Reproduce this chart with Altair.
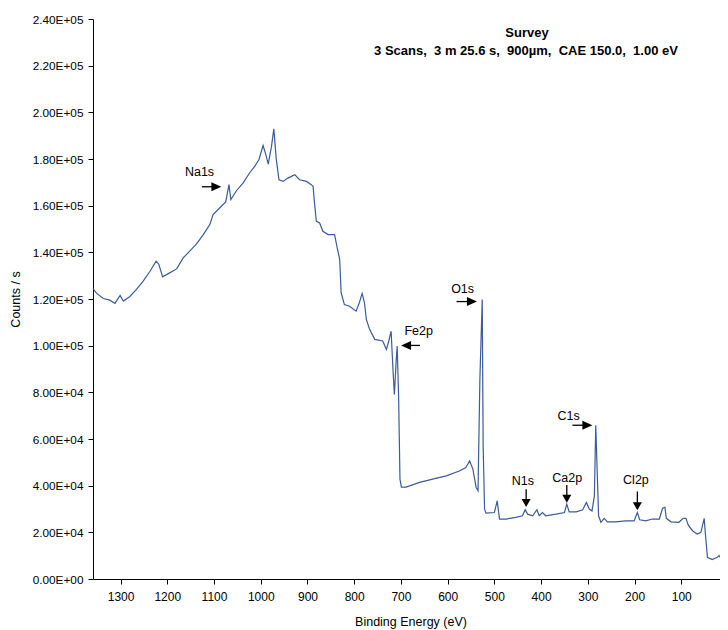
import altair as alt
import pandas as pd

# Spectrum: binding energy (eV) and counts/s
BE = [1359, 1351, 1337, 1323, 1312, 1301, 1294, 1280, 1266, 1252, 1237, 1224, 1218, 1210,
      1195, 1180, 1166, 1152, 1137, 1123, 1109, 1102, 1088, 1075, 1068, 1064, 1052, 1038,
      1024, 1013, 1004, 995, 989, 984, 977, 972, 967, 961, 952, 942, 927, 917, 902, 892,
      888, 885, 881, 874, 867, 856, 842, 837, 831, 828, 821, 810, 796, 789, 783, 778, 774,
      767, 756, 739, 731, 726, 721, 717, 714, 710, 708, 705, 702, 699, 689, 660, 632, 603,
      575, 561, 553, 546, 539, 535, 531, 526, 524, 521, 518, 500, 494, 489, 475, 454, 440,
      434, 429, 418, 409, 404, 397, 390, 368, 350, 345, 340, 325, 311, 303, 297, 291, 286,
      283, 277, 272, 265, 258, 240, 219, 201, 194, 189, 176, 162, 147, 140, 135, 132, 122,
      105, 96, 90, 85, 76, 66, 58, 51, 48, 44, 34, 23, 19, 13, 5]
CPS = [124500, 122400, 120200, 119500, 118100, 121500, 119100, 121100, 124100, 127600,
       131900, 136200, 134800, 129500, 131200, 132900, 137600, 140500, 143700, 147600,
       151900, 156200, 159000, 161600, 169000, 162600, 166400, 169700, 174000, 176800,
       179700, 185800, 181800, 177800, 185400, 192900, 180400, 171100, 170400, 171800,
       173300, 171100, 170400, 169000, 168300, 161300, 153300, 152600, 149000, 147600,
       147600, 142600, 136900, 122700, 117600, 116900, 114800, 118400, 122400, 118400,
       111200, 107000, 102700, 102000, 98400, 102000, 106200, 89800, 79100, 94100, 99800,
       78400, 42800, 39400, 39400, 41400, 42800, 44200, 46300, 47800, 50600, 47100, 39200,
       37800, 85600, 119800, 57000, 30000, 28200, 28500, 33500, 25700, 25700, 26400, 27100,
       29700, 27800, 27100, 29700, 27100, 28500, 27100, 27800, 28500, 32100, 28800, 28800,
       29700, 32800, 30000, 29200, 35600, 65900, 27100, 24300, 26000, 24500, 24500, 24900,
       24900, 28500, 25400, 24900, 25700, 25700, 30300, 30700, 26000, 24500, 24300, 26000,
       26000, 23100, 20700, 19300, 20000, 26000, 18500, 9300, 8300, 9300, 10000, 8300, 8300]

# Peak annotations
ANN_TEXT = ["Na1s", "Fe2p", "O1s", "N1s", "Ca2p", "C1s", "Cl2p"]
ANN_X = [1131, 662, 568, 439, 344, 341, 197]
ANN_Y = [174300, 106100, 124100, 42200, 43500, 69900, 42400]
ARR_X1 = [1126, 659, 581, 432, 345, 333, 194]
ARR_X2 = [1095, 689, 548, 432, 345, 301, 194]
ARR_Y1 = [168100, 100100, 118900, 38500, 40300, 65900, 37500]
ARR_Y2 = [168100, 100100, 118900, 32600, 34400, 65900, 31200]
ARR_DIR = ["right", "left", "right", "down", "down", "right", "down"]

TITLE = "Survey"
SUBTITLE = "3 Scans,\u00a0 3 m 25.6 s,\u00a0 900\u00b5m,\u00a0 CAE 150.0,\u00a0 1.00 eV"

HEADS = {
    "right": "M-1,-0.9L1,0L-1,0.9Z",
    "left": "M1,-0.9L-1,0L1,0.9Z",
    "down": "M-1,-0.9L1,-0.9L0,0.9Z",
}

spec_df = pd.DataFrame({"BE": BE, "CPS": CPS})
ann_df = pd.DataFrame({"label": ANN_TEXT, "lx": ANN_X, "ly": ANN_Y})
arr_df = pd.DataFrame({
    "x1": ARR_X1, "x2": ARR_X2, "y1": ARR_Y1, "y2": ARR_Y2,
    "shape": [HEADS[d] for d in ARR_DIR],
    "hsize": [100 if d != "down" else 81 for d in ARR_DIR],
})

xscale = alt.Scale(domain=[0, 1359], reverse=True, nice=False, zero=False)
yscale = alt.Scale(domain=[0, 240000], nice=False, zero=True)

xaxis = alt.Axis(
    title="Binding Energy (eV)",
    values=list(range(0, 1351, 50)),
    format="d",
    labelExpr="datum.value % 100 == 0 ? datum.label : ''",
    grid=False, tickSize=5, labelPadding=7, labelFlush=False, labelOverlap=False,
    domainColor="black", tickColor="black", labelColor="black", titleColor="black",
    labelFontSize=12, titleFontSize=12.5, titleFontWeight="normal",
    titleY=42, titleBaseline="middle",
)
yaxis = alt.Axis(
    title="Counts / s",
    values=list(range(0, 240001, 10000)),
    labelExpr=("datum.value % 20000 != 0 ? '' : datum.value == 0 ? '0.00E+00' : "
               "datum.value >= 100000 ? format(datum.value / 100000, '.2f') + 'E+05' : "
               "format(datum.value / 10000, '.2f') + 'E+04'"),
    grid=False, tickSize=5, labelPadding=5, labelFlush=False, labelOverlap=False,
    domainColor="black", tickColor="black", labelColor="black", titleColor="black",
    labelFontSize=11.8, titleFontSize=12.5, titleFontWeight="normal",
    titleX=-78, titleY=280, titleAngle=270, titleAlign="center", titleBaseline="middle",
)

line = alt.Chart(spec_df).mark_line(color="#3b5b9b", strokeWidth=1.2).encode(
    x=alt.X("BE:Q", scale=xscale, axis=xaxis),
    y=alt.Y("CPS:Q", scale=yscale, axis=yaxis),
    order=alt.Order("BE:Q", sort="descending"),
)

labels = alt.Chart(ann_df).mark_text(fontSize=12.5, color="black", align="center",
                                     baseline="middle").encode(
    x=alt.X("lx:Q", scale=xscale),
    y=alt.Y("ly:Q", scale=yscale),
    text="label:N",
)

shafts = alt.Chart(arr_df).mark_rule(color="black", strokeWidth=1.3).encode(
    x=alt.X("x1:Q", scale=xscale), x2="x2:Q",
    y=alt.Y("y1:Q", scale=yscale), y2="y2:Q",
)

heads = alt.Chart(arr_df).mark_point(filled=True, color="black", opacity=1,
                                     strokeWidth=0).encode(
    x=alt.X("x2:Q", scale=xscale),
    y=alt.Y("y2:Q", scale=yscale),
    shape=alt.Shape("shape:N", scale=None),
    size=alt.Size("hsize:Q", scale=None),
)

title_df = pd.DataFrame({"t": [TITLE], "s": [SUBTITLE]})
t1 = alt.Chart(title_df).mark_text(fontSize=13, fontWeight="bold", color="black",
                                   align="center", baseline="middle").encode(
    x=alt.value(434), y=alt.value(14), text="t:N")
t2 = alt.Chart(title_df).mark_text(fontSize=13, fontWeight="bold", color="black",
                                   align="center", baseline="middle").encode(
    x=alt.value(433), y=alt.value(32), text="s:N")

chart = alt.layer(line, shafts, heads, labels, t1, t2).properties(
    width=635, height=560,
    autosize=alt.AutoSizeParams(type="none"),
    padding={"left": 85, "top": 11, "right": -8, "bottom": 51},
    background="white",
).configure(font="Liberation Sans").configure_view(stroke=None)

chart.save("out.html", embed_options={"renderer": "svg", "actions": False})
